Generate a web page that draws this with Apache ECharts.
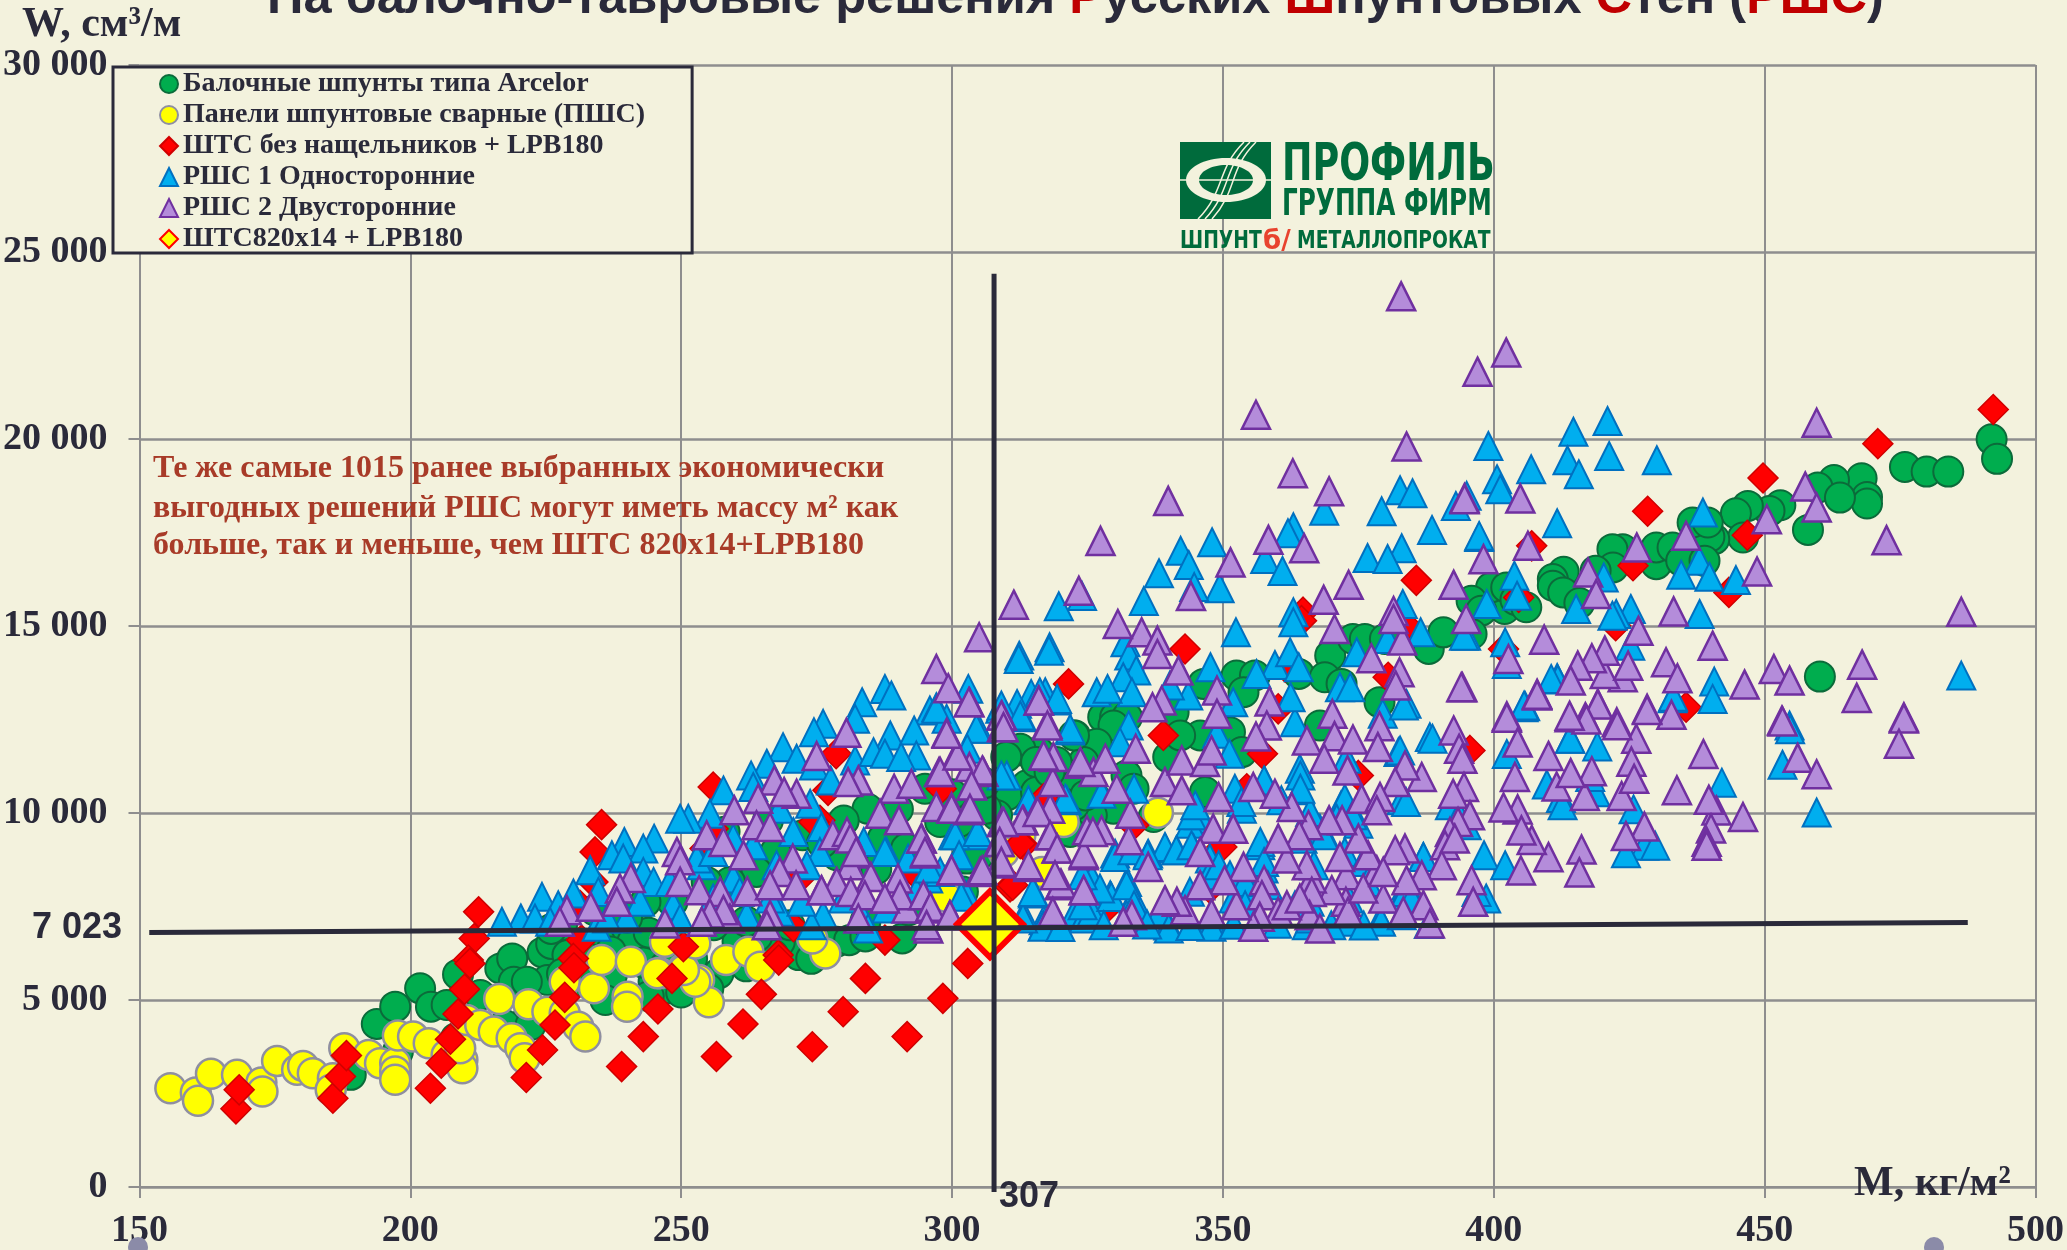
<!DOCTYPE html>
<html><head><meta charset="utf-8">
<style>html,body{margin:0;padding:0;background:#F3F2DD;overflow:hidden}#c{width:2067px;height:1250px}</style>
<script src="https://cdn.jsdelivr.net/npm/echarts@6/dist/echarts.min.js"></script>
</head><body><div id="c"></div>
<script>
const nameGreen='Балочные шпунты типа Arcelor', nameYellow='Панели шпунтовые сварные (ПШС)', nameRed='ШТС без нащельников + LPB180',
nameBlue='РШС 1 Односторонние', namePurple='РШС 2 Двусторонние', nameRef='ШТС820х14 + LPB180';
const refPoint=[[307,7023]];
const hLine=[[151.8,6805],[487.5,7072]];
const vLine=[[307.75,24420],[307.75,-133]];
const green=[[475.9,19252],[479.9,19128],[483.9,19128],[467.9,18950],[462.8,18905],[459.8,18700],[468.9,18450],[468.9,18274],[463.9,18434],[458,17570],[452.9,18229],[450.9,18078],[446.9,18211],[444.7,18015],[446,17366],[440.7,17321],[439.8,17384],[436.7,17766],[439.5,17766],[430,16654],[430,17100],[433,17100],[434.6,16743],[438.9,16743],[423.8,17055],[421.9,17055],[422,16565],[418.8,16476],[412.9,16450],[410.9,16254],[410.9,16076],[412.8,15898],[415.8,15613],[402,15453],[399.5,16032],[402.3,16032],[395.9,15675],[397.7,15409],[395.9,14786],[460.2,13647],[491.9,19990],[492.9,19470],
[369.8,14208],[374,14653],[376.2,14653],[379.9,14653],[388,14386],[390.7,14831],[364,13719],[368.8,13630],[371.9,13452],[378.9,12963],[367.9,12340],[352.5,13675],[355.9,13675],[353.8,13230],[346.4,13452],[340.9,12696],[345.8,12073],[351.3,12162],[353.5,11628],[339.9,11495],[342.1,12073],[327.9,12562],[330.1,12562],[332.3,12562],[329.8,12340],[322.7,12073],[312.9,11673],[316,11628],[326.7,11851],[324.3,11361],[332.2,11005],[333.5,10650],[326.1,10472],[329.8,10116],[325.8,9938],[322.4,11005],[319.3,11361],[313.8,10739],[310.1,10472],[308.3,9938],[305.2,10294],[321.8,9493],[337.2,9893],[346.7,10561],[302.1,9404],[302.7,8781],
[193.8,4359],[197.2,4822],[201.8,5311],[203.8,4822],[206.7,4866],[208.8,5685],[212.9,5133],[216.6,5845],[218.8,6112],[224.4,6272],[219.1,5489],[222,5445],[225.3,5534],[221.5,4466],[217.4,4333],[230.6,6423],[240.9,6201],[247.9,5489],[237.2,5667],[197.7,3621],[189,2998],[208.4,3977],[239.7,6779],[221.5,5489],[235,6557],[241,6557],[244.9,5489],[247.7,5311],[256.9,5712],[271.7,6201],[278.7,6557],[290.8,6646],[268.2,6557],[260.4,6557],[222.2,4332],
[267.4,8959],[263.9,8425],[272.4,9404],[284.4,10115],[287.2,9315],[295,10649],[301.3,9760],[306.3,10115],[312.6,11717],[315.5,11361],[322.5,12073],[248.4,7624],[243.4,7624],[259,8158],[254.7,8158],[278.7,8870],[291.5,9048],[297.8,9760],[304.9,8870],[322.5,10205],[315.5,10560],[324.6,10471],
[226,6500],[229,6200],[233,6100],[237,6300],[243,6000],[247,5900],[252,6100],[228,5700],[232,5500],[236,5000],[244,5100],[250,5200],[255,5300],[262,5900],[267,6200],[274,6100],[281,6600],[284,6700],[264,6700],[270,7000],[262,7100],[256,7000],[248,6800],[244,6800],[240,7200],[234,7400],[228,7000],[226,6900],[284,7100],[292,7400],[298,8200],[302,7900],[286,8500],[276,9200],[266,9800],[258,9500],[280,9800],[290,10100],[300,10500],[306,10800],[310,11500],[318,11100],[404,15700],[406,15500]];
const yellow=[[155.7,2642],[160.4,2527],[160.8,2304],[163.2,3025],[168,2998],[172.5,2793],[172.7,2553],[175.4,3372],[179.1,3132],[180.2,3238],[182,3043],[185.7,2909],[185.3,2598],[187.8,3710],[192.3,3532],[194.4,3310],[197.2,3310],[197.2,3087],[197.2,2865],[197.7,4048],[200.5,4021],[203.4,3843],[206.7,3532],[209.6,3398],[209.6,3176],[209.2,3710],[210.4,4466],[212.9,4333],[215.4,4155],[218.7,3977],[220.3,3710],[221.1,3443],[216.4,5027],[221.8,4884],[225.3,4688],[228.5,4644],[231,4288],[232.3,4021],[228.5,5489],[233.9,5311],[235.3,6067],[240.7,6023],[240.1,5089],[240,4822],[246.1,5712],[250.4,5845],[253.3,5534],[255.1,4937],[252.6,5489],[250.5,5800],[245.6,5712],[258.3,6067],[262.4,6290],[264.6,5890],[276.6,6245],[274.2,6646],[252.6,6512],[247,6557],[338,10009],[320.6,9760],[316.6,8425],[312.6,9404],[309.5,8959],[298.9,7758]];
const red=[[470.9,19875],[449.7,18958],[428.4,18069],[446.8,17428],[407,17144],[425.7,16610],[443.4,15898],[404.6,15764],[422.5,15008],[401.8,14385],[435.5,12828],[492.2,20790],[385.7,16220],[364.8,15370],[343,14386],[321.5,13452],[339,12073],[357.3,11584],[360.2,12785],[364.5,15143],[383.9,15009],[380.5,13630],[395.6,11673],[375,11005],[354.4,10650],[349.8,9093],[313.2,9137],[333.5,9671],[310.7,8025],[316.9,10383],[361.5,13897],[327.9,7358],[347.6,7980],
[212.6,7357],[211.8,6646],[210.7,6068],[235.3,9689],[234.1,8959],[233.7,8158],[255.9,10694],[278.6,11584],[277.1,10605],[275.6,9804],[298,10649],[254.4,9048],[255.9,9582],[231.6,6601],[250.4,6423],[267.9,6201],[287.6,6601],[270.7,6957],[292.8,8425],[231.3,7535],[272.5,8336],[230.1,6112],
[167.8,2090],[168.4,2598],[185.7,2375],[187.1,2954],[188.2,3514],[203.7,2642],[205.7,3309],[207.4,3950],[208.8,4626],[210,5285],[211,5979],[221.4,2927],[224.4,3665],[226.7,4333],[228.5,5071],[230.2,5863],[239,3220],[243,4021],[245.7,4760],[248.3,5578],[261.4,4359],[264.8,5151],[268,6067],[256.5,3490],[274.2,3750],[279.9,4688],[284,5578],[291.7,4021],[298.3,5044],[302.9,5978],[312.6,9181],[311.2,8069],[274.5,9760]];
const blue=[[382.7,18630],[385,18550],[379.3,18070],[368.7,18080],[363,17640],[362,17480],[393,18210],[395,18480],[388.6,17570],[383,17080],[376.7,16820],[380.4,16790],[348,17240],[342.2,17010],[343.7,16630],[338.2,16410],[357.8,16790],[361,16470],[349.4,16010],[344.7,16040],[335.4,15670],[324,15800],[319.7,15530],[363,15370],[383.2,15590],[397.3,17380],
[421,20480],[414.7,20195],[399,19813],[413.6,19430],[421.3,19546],[430.1,19430],[406.9,19190],[415.7,19056],[400.6,18923],[401.2,18656],[411.7,17748],[397.3,17410],[438.6,18033],[437.9,16743],[439.8,16316],[434.6,16370],[444.7,16227],[420.3,16298],[403.8,16343],[404.3,15809],[398.7,15587],[415.2,15453],[425.3,15453],[422.6,15320],[421.9,15275],[438,15320],[425.2,14475],[402.1,14563],[402.4,13985],[394.9,14742],[411.7,13611],[440.7,13514],[440.4,13051],[433,13069],[486.3,13674],[405.5,12828],[454.6,12339],
[453.3,11291],[454.7,12241],[459.6,10015],[442.1,10811],[411.8,13568],[405.8,12853],[433.1,13109],[427.8,9127],[429.8,9127],[424.4,8922],[425.8,10097],[412.4,10403],[409.8,10760],[418.8,10556],[419.1,11781],[414.1,11985],[402.4,11577],[417.8,10965],
[312.4,14208],[318,14431],[352.4,14831],[363,15098],[386.5,14831],[394.5,14742],[332,14564],[332.7,14208],[334,13808],[331.6,13630],[333.2,13230],[326.7,13230],[328.7,13319],[347.7,13897],[359.6,13959],[362.4,14297],[364,13897],[356.2,13719],[374.7,14297],[380.4,14653],[383.9,12918],[379.5,12651],[371.6,13363],[373.5,13363],[363.3,12429],[362.5,13096],[343.6,13141],[340.2,13408],[351.9,12963],[348.9,12118],[351.2,11584],[332.6,12340],[331,11895],[321.8,12207],[319.3,13007],[317.2,13230],[314.6,13185],[312.9,12562],[312,12918],[308.9,12785],[304.9,12251],[303,13319],[310.1,11005],[388.2,12029],[382.4,11628],[372.8,11450],[364.2,11183],[364.2,10605],[357.8,10827],[352.2,10650],[353.5,10116],[383,10338],[372.2,10204],[360.8,10338],[375,9715],[368.5,9493],[345.8,9938],[344.6,9849],[343.9,9715],[333.6,10650],[327.6,10516],[321.2,10338],[314.1,10338],[330.1,8914],[336.2,8914],[339.4,9048],[341.5,9004],[344.6,9048],[347.6,8781],[353.8,7980],[356.9,9137],[372.5,8959],[375.9,8692],[387,8826],[383.9,8069],[379,7135],[366,7624],[339.9,6992],[347.9,7091],[332.3,8158],[329.2,7802],[325.8,7625],[322.7,7358],[316.9,7135],[325.8,8247],[315,7892],[313.2,7269],[304.6,9404],[302.7,7803],[333.5,7714],[338.4,7358],[343.9,7892],[347.3,8247],[357.5,8514],[367.9,9582],[365.5,7002],[372.8,7091],[383,7713],
[287.6,13318],[288.8,13140],[283.4,12963],[282.1,12518],[276.2,12384],[274.5,12162],[295.9,12740],[297.1,12829],[299,12518],[268.8,11761],[271.3,11450],[274.5,11272],[282.1,11405],[288.6,12073],[285.5,11628],[287.6,11584],[293,12206],[293.4,11539],[290.6,11494],[265.8,11317],[262.9,11005],[257.8,10605],[263.3,10694],[277.6,10872],[268.2,10115],[273.8,10249],[255.3,9982],[251.3,9849],[249.8,9849],[245,9315],[239.5,9226],[237.2,8870],[243,9048],[239.3,8781],[233.2,8470],[243,8425],[230.1,7847],[224.3,7758],[227.3,7535],[220.4,7180],[216.9,7091],[223,7180],[234.7,7891],[244.9,8158],[247.9,8158],[253.8,8603],[259.6,9315],[263.3,9137],[270.7,9493],[275.9,9626],[275.6,8959],[287.9,8959],[283.7,9226],[291.9,8781],[295.6,8247],[300.2,9404],[259.6,8247],[252.9,8781],[255.9,8959],[248.5,7535],[239.9,7180],[242.4,7625],[234.4,6957],[249.8,7180],[255.9,7713],[262.1,7269],[267.6,8603],[273.2,8603],[276.2,7269],[274.1,7002],[268.2,7358],[279.9,7713],[283.6,7180],[287.9,7446],[297.8,8425],[293.4,7891],[284.5,6913],[266.4,7713],[272.2,7625],[260.8,7891],[236.3,7180],[225.8,7091],
[314.9,7847],[324.3,7179],[316.9,7002],[301.7,7758],[304.5,12251],[297.1,12785],[309.1,12873],[312.3,14119],[317.9,14341],[321.8,12251],[312.6,12607],[316.2,13229],[319.4,13051],[309.1,11005],[300.6,9404],[304.7,9493],[299.9,8514],[287.6,8959],[301.3,8870],[295.7,8514],[302.8,11717],
[340,6912],[347.9,6956],[316.7,6956],[325.8,7357],[329.4,7757],[332.2,8069],[332.2,7268],[333.6,7535],[324.1,7535],[327.3,7980],[324.1,8335],[330.1,8825],[333.3,9003],[339.3,9092],[336.1,8869],[341.4,9003],[344.2,9136],[345.6,9937],[344.2,9937],[344.9,10204],[347.4,8335],[349.2,8602],[351.3,8335],[354.1,8157],[352,7712],[356.9,9225],[357.6,8691],[358.3,8068],[354.1,7534],[366.1,10026],[364.7,9314],[366.8,8602],[368.6,9403],[371.8,10204],[372.5,10382],[373.9,9937],[371,9848],[379.2,7090],[383,7268],[373.2,7712],[376.7,8157],[383.8,7890],[387,8825],[384.8,7712],[366.1,7179],[363.3,7534],[391.9,10204],[393.6,9937],[395,9670],[398.2,8869],[402.1,8602],[398.6,7712],[396.8,7890],[383.8,10293],[364.3,11004],[364.3,10649],[357.6,10871],[353.4,10293],[405.6,12873],[410.6,13585],[414.1,11983],[412.7,10204],[388.7,11983],[382.7,11672],[383.4,12873],[313.1,7179],[314.9,7890],[320.9,10382],
[320,6950],[328,7000],[336,7020],[344,6980],[352,7010],[360,7040],[370,7000],[376,6990],[388,7030]];
const purple=[[382.9,23815],[356.1,20647],[383.9,19800],[362.9,19083],[369.6,18603],[339.9,18345],[327.4,17276],[358.4,17304],[365,17080],[351.4,16700],[323.4,15940],[311.4,15570],[344.1,15800],[373.2,16100],[368.6,15700],[392.6,16100],[381.5,15400],[394.6,18420],[397,21800],[402.3,22310],
[459.6,20435],[457.5,18727],[459.6,18167],[450.4,17855],[435.5,17410],[426.4,17100],[406.3,17144],[404.9,18407],[394.6,18389],[398.1,16788],[417.4,16432],[418.9,15853],[448.6,16458],[472.5,17295],[486.3,15382],[433.2,15391],[426.7,14875],[409.3,14635],[402.7,14118],[394.9,15186],[440.4,14474],[431.8,14030],[433.9,13603],[446.3,13433],[451.7,13852],[454.6,13540],[468,13967],[467,13078],[475.7,12561],[453.2,12472],[432.8,12624],[428.3,12784],[423.8,13629],[420.5,13718],[424.8,13940],[420.5,14341],[418.1,14136],[415.5,13940],[414.2,13540],[408,13184],[408,13140],[419.2,12917],[416.9,12562],[414,12562],[422.7,12428],[402.4,12588],[394.2,13362],
[475.7,12527],[474.8,11853],[453.3,12445],[456.1,11475],[459.6,11036],[446,9892],[441.1,10066],[439.7,10352],[440.1,9586],[439.3,9228],[439.3,9127],[433.8,10607],[438.7,11577],[427.8,9637],[424.4,9382],[416.2,9024],[415.8,8412],[410.1,8820],[407,9280],[405,8463],[423.6,10454],[416.8,10454],[411.6,10710],[418.1,11118],[414.2,11067],[410.1,11526],[426.3,11985],[425.4,11373],[425.9,10913],[422.8,12343],[419.2,12904],[417.1,12497],[414,12598],[428.3,12751],[408,13160],[402.4,12547],[404.4,11883],[403.9,10965],[404.4,10096],[401.8,10148],[405.1,9535],
[305,14698],[394,13363],[377.4,14137],[383.1,14609],[370.6,14920],[335,14831],[337.9,14609],[337.9,14253],[330.6,15054],[381.5,15187],[382.6,13763],[381.9,13408],[348.9,13274],[348.9,12651],[341.8,13808],[338.7,13007],[337,12829],[358.6,12981],[358.1,12340],[356.1,12046],[370.2,12651],[378.9,12322],[365.5,11940],[370.6,12055],[374,11966],[378.6,11762],[368.7,11450],[373,11139],[392.6,12207],[393.6,11717],[394.2,11450],[386.7,10961],[383.6,11272],[381.8,10827],[375.6,10383],[379,10427],[378.4,10071],[394.5,10694],[392.5,10516],[395.6,9938],[393.4,9760],[391.9,9493],[391,9137],[390.4,8603],[395.9,8203],[396.2,7624],[387,7536],[386.7,8336],[383.6,9048],[381.8,9004],[383.9,8203],[379.6,7713],[383.3,7358],[378.4,8470],[376.8,8870],[375,9315],[372,9804],[369.6,9804],[365.8,9671],[364.1,9404],[362.7,10160],[372.8,8336],[372.7,7624],[371.6,8826],[370.1,7936],[366.4,8247],[365.5,8603],[366.4,7891],[366,7269],[373.1,7358],[361.8,8781],[360.2,9315],[357.6,8203],[357.2,7802],[360.2,7358],[356.8,7224],[355.6,6957],[367.9,6913],[388.2,7046],[353.8,8559],[352.5,7536],[350.3,8203],[347.9,7313],[345.8,8069],[343,7402],[341.5,7625],[339.3,7669],[333.2,7269],[331.6,7090],[336.2,8559],[332.6,9270],[332.9,9982],[330.4,10650],[327.6,9537],[324.9,9537],[324.3,8870],[324.3,7936],[319.9,8069],[318.6,7313],[314.1,8559],[319.3,9048],[318,9404],[313.2,9804],[315.6,10027],[318.1,10116],[318.6,10827],[316.9,11539],[318.7,11495],[317.6,12384],[316,13007],[309.2,12607],[309.2,12296],[303.2,12963],[323.6,11317],[326.1,11094],[328.3,11450],[333.9,11717],[339.3,10827],[342.4,11406],[342.4,10605],[346.7,11361],[347.9,11673],[349.2,10427],[355.6,10694],[359.6,10516],[348.2,9582],[351.9,9582],[345.8,8959],[303.7,10739],[303.2,11228],[305.8,11094],[303,10071],[309.2,9760],[308.6,9226],[308.8,8648],[305.2,8425],[361.8,7535],[364.2,7713],[375.9,7980],[379.6,8425],[392.8,9315],
[297.1,13852],[299.3,13336],[280.5,12144],[275,11521],[299,12144],[300.8,11539],[267.2,10872],[271.3,10516],[269,10560],[264.2,10382],[282.7,10872],[280.8,10827],[289.3,10649],[292.5,10783],[297.6,11094],[286.7,9982],[290.2,9804],[297.1,10160],[299.9,10160],[259.8,10071],[263.9,9671],[266.4,9626],[254.7,9404],[257.8,9226],[261.5,8870],[278,9404],[280.6,9493],[281.2,9315],[282.3,8914],[281.2,8603],[270.6,8781],[268.2,8425],[294.4,9315],[295,8914],[299.9,8470],[249.2,8959],[249.8,8736],[249.8,8158],[240.7,8265],[238.7,7980],[238.1,7625],[228.9,7402],[233.3,7491],[227.6,7091],[253.3,7936],[257.2,7891],[262.2,7909],[266.4,8070],[271.2,8070],[275.9,7936],[278.7,8158],[285,8292],[281.3,7891],[283.9,7802],[287.6,7713],[291.6,7446],[290,8247],[290.4,7802],[294.7,7802],[295.9,7446],[299.6,7269],[295.6,6913],[282.7,7180],[259,7180],[257.8,7402],[255.3,7313],[253.8,7091],[247,7046],[266.4,7269],[265.8,7002],
[303.1,12962],[309.1,12607],[309.5,12295],[316,13007],[317.6,12340],[316.9,11539],[323.7,11361],[305.6,11138],[303.6,10738],[299.9,10115],[303.3,10115],[297.8,11094],[301,11539],[299,12117],[313,9804],[315.8,10026],[309.5,9759],[318.1,9404],[308.8,9226],[309.1,8692],[305.6,8470],[299.9,8470],[314.1,8603],[319.4,9048],[324.3,8914],[320.1,8113],[324.3,7936],[318.6,7357],[319,8336],[326,9492],[294.3,9315],[295,8959],[287.6,7713],[296,7491],[299.6,7268],[295.3,7002],[282.3,8959],[275.9,7936]];
const xMin=150,xMax=500,xStep=50,yMin=0,yMax=30000,yStep=5000;
const ink='#2A2A3A', gridCol='#8E8E8E', serif='"Liberation Serif","Times New Roman",serif', sans='"Liberation Sans",Arial,sans-serif';
const logoGreen='#006B3C';
const chart=echarts.init(document.getElementById('c'),null,{renderer:'canvas',width:2067,height:1250});
const sc=(name,data,symbol,size,fill,stroke,bw)=>({type:'scatter',name,data,symbol,symbolSize:size,clip:false,silent:true,animation:false,
 itemStyle:{color:fill,borderColor:stroke,borderWidth:bw,opacity:1}});
const ln=(name,data)=>({type:'line',name,data,symbol:'none',clip:false,silent:true,animation:false,lineStyle:{color:ink,width:5},z:5});
const txt=(text,x,y,size,font,color)=>({type:'text',x,y,silent:true,z:20,style:{text,font:`bold ${size}px ${font}`,fill:color,verticalAlign:'middle'}});
const logoTxt=(text,x,y,scaleX,size,color)=>({type:'text',x,y,scaleX,silent:true,z:4,style:{text,font:`bold ${size}px "DejaVu Sans"`,fill:color,verticalAlign:'middle'}});
chart.setOption({
 backgroundColor:'#F3F2DD',animation:false,
 title:{text:'На балочно-тавровые решения {r|Р}усских {r|Ш}пунтовых {r|С}тен ({r|РШС})',left:262,top:-31,
  textStyle:{fontFamily:sans,fontWeight:'bold',fontSize:50.5,color:ink,rich:{r:{fontFamily:sans,fontWeight:'bold',fontSize:50.5,color:'#C00000'}}}},
 legend:{left:113,top:67,orient:'vertical',data:[nameGreen,nameYellow,nameRed,nameBlue,namePurple,nameRef],
  itemWidth:18,itemHeight:18,itemGap:3,padding:[3,47,0,46],backgroundColor:'#F3F2DD',borderColor:ink,borderWidth:3,selectedMode:false,z:10,
  textStyle:{fontFamily:serif,fontWeight:'bold',fontSize:28,lineHeight:27,color:ink}},
 grid:{left:139,right:31,top:65,bottom:61},
 xAxis:{type:'value',min:xMin,max:xMax,interval:xStep,
  axisLine:{show:true,lineStyle:{color:gridCol,width:2}},axisTick:{show:true,length:11,lineStyle:{color:gridCol,width:2}},
  splitLine:{show:true,lineStyle:{color:gridCol,width:2}},
  axisLabel:{fontFamily:serif,fontWeight:'bold',fontSize:38,color:ink,margin:25,showMinLabel:true,showMaxLabel:true,hideOverlap:false}},
 yAxis:{type:'value',min:yMin,max:yMax,interval:yStep,
  axisLine:{show:false},axisTick:{show:true,length:11,lineStyle:{color:gridCol,width:2}},
  splitLine:{show:true,lineStyle:{color:gridCol,width:2.5}},
  axisLabel:{fontFamily:serif,fontWeight:'bold',fontSize:38,color:ink,margin:32,formatter:v=>String(v).replace(/\B(?=(\d{3})+$)/g,' ')}},
 series:[
  sc(nameGreen,green,'circle',30,'#00AD4E','#0B6B3A',2),
  sc(nameYellow,yellow,'circle',30,'#FFFF00','#8F8FA0',2.5),
  sc(nameRed,red,'diamond',30,'#FF0000','#D00000',1.5),
  sc(nameBlue,blue,'triangle',28,'#00AEEF','#0070C0',2),
  sc(namePurple,purple,'triangle',28,'#B48CDA','#7030A0',2.5),
  sc(nameRef,refPoint,'diamond',66,'#FFFF00','#FF0000',6),
  ln('h',hLine),ln('v',vLine)
 ],
 graphic:[
  txt('W, см³/м',22,25,42,serif,ink),
  txt('7 023',32,928,36,sans,ink),
  txt('307',999,1197,36,sans,ink),
  txt('М, кг/м²',1854,1184,42,serif,ink),
  txt('Те же самые 1015 ранее выбранных экономически',153,469,32,serif,'#A83B28'),
  txt('выгодных решений РШС могут иметь массу м² как',153,509,32,serif,'#A83B28'),
  txt('больше, так и меньше, чем ШТС 820х14+LPB180',153,546,32,serif,'#A83B28'),
  {type:'circle',silent:true,z:20,shape:{cx:138,cy:1247,r:10},style:{fill:'#8B8BA8'}},
  {type:'circle',silent:true,z:20,shape:{cx:1934,cy:1247,r:10},style:{fill:'#8B8BA8'}},
  {type:'rect',silent:true,z:3,shape:{x:1180,y:142,width:91,height:77},style:{fill:logoGreen}},
  {type:'ellipse',silent:true,z:4,shape:{cx:1226,cy:180,rx:40,ry:22},style:{fill:'#F3F2DD'}},
  {type:'ellipse',silent:true,z:4,shape:{cx:1226,cy:180,rx:27,ry:15},style:{fill:logoGreen}},
  {type:'line',silent:true,z:4,shape:{x1:1180,y1:180,x2:1271,y2:180},style:{stroke:'#F3F2DD',lineWidth:1.5}},
  {type:'bezierCurve',silent:true,z:4,shape:{x1:1198,y1:219,cpx1:1226,cpy1:190,cpx2:1216,cpy2:170,x2:1244,y2:142},style:{stroke:'#F3F2DD',lineWidth:1.5,fill:'none'}},
  {type:'bezierCurve',silent:true,z:4,shape:{x1:1205,y1:219,cpx1:1232,cpy1:190,cpx2:1222,cpy2:170,x2:1250,y2:142},style:{stroke:'#F3F2DD',lineWidth:1.5,fill:'none'}},
  {type:'bezierCurve',silent:true,z:4,shape:{x1:1212,y1:219,cpx1:1238,cpy1:190,cpx2:1228,cpy2:170,x2:1256,y2:142},style:{stroke:'#F3F2DD',lineWidth:1.5,fill:'none'}},
  logoTxt('ПРОФИЛЬ',1282,166,0.70,52,logoGreen),
  logoTxt('ГРУППА ФИРМ',1282,205,0.65,38,logoGreen),
  logoTxt('ШПУНТ',1180,242,0.78,24,logoGreen),
  logoTxt('б/',1263,242,1,26,'#E8432E'),
  logoTxt('МЕТАЛЛОПРОКАТ',1297,242,0.78,24,logoGreen)
 ]
});
</script></body></html>
